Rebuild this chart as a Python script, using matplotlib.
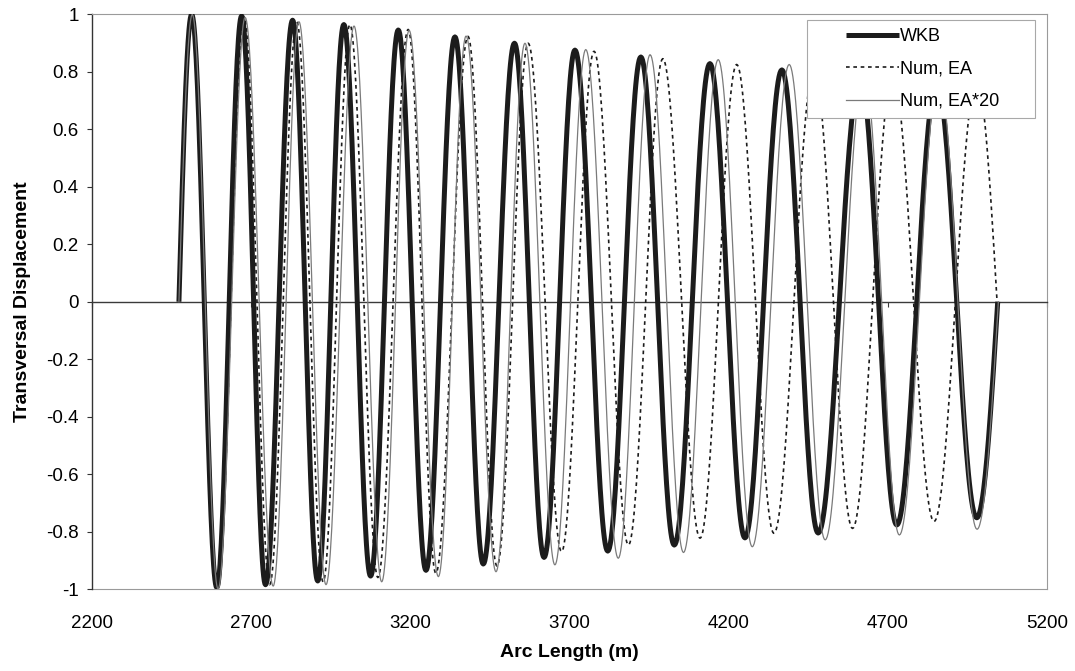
import numpy as np
import matplotlib.pyplot as plt
from matplotlib.patches import Rectangle


# =========================================================
# DATA (extrema)
# =========================================================
# WKB solution: start, alternating peaks / troughs, end
wkb_x = [2473, 2513, 2592, 2670, 2745, 2830, 2909, 2991, 3075, 3162, 3249, 3340, 3429, 3527,
         3620, 3717, 3820, 3924, 4029, 4141, 4251, 4367, 4481, 4613, 4728, 4853, 4979, 5045]
wkb_y = [0, 1.0, -0.995, 0.995, -0.985, 0.98, -0.972, 0.965, -0.955, 0.946, -0.935, 0.922, -0.913, 0.90,
         -0.89, 0.876, -0.868, 0.852, -0.847, 0.829, -0.822, 0.807, -0.805, 0.785, -0.777, 0.765, -0.752, 0]

# Numerical, EA
ea_x = [2473, 2515, 2595, 2678, 2758, 2843, 2926, 3010, 3098, 3193, 3280, 3381, 3472, 3570,
        3675, 3777, 3885, 3993, 4110, 4225, 4342, 4468, 4589, 4715, 4845, 4979, 5043]
ea_y = [0, 1.0, -0.995, 0.99, -0.985, 0.975, -0.975, 0.965, -0.96, 0.948, -0.945, 0.924, -0.92, 0.90,
        -0.87, 0.872, -0.847, 0.846, -0.823, 0.826, -0.806, 0.81, -0.789, 0.79, -0.765, 0.77, 0]

# Numerical, EA*20
ea20_x = [2473, 2515, 2596, 2681, 2769, 2850, 2935, 3023, 3110, 3196, 3288, 3375, 3469, 3560,
          3654, 3751, 3853, 3953, 4058, 4167, 4274, 4390, 4503, 4625, 4736, 4860, 4980, 5047]
ea20_y = [0, 1.0, -1.0, 0.99, -0.99, 0.975, -0.985, 0.96, -0.975, 0.945, -0.957, 0.925, -0.94, 0.90,
          -0.916, 0.878, -0.893, 0.86, -0.873, 0.843, -0.853, 0.826, -0.829, 0.805, -0.812, 0.785, -0.792, 0]

x_ticks = [2200, 2700, 3200, 3700, 4200, 4700, 5200]
y_ticks = [1, 0.8, 0.6, 0.4, 0.2, 0, -0.2, -0.4, -0.6, -0.8, -1]

labels = ["WKB", "Num, EA", "Num, EA*20"]


# =========================================================
# HELPERS
# =========================================================
def wave(xs, ys, n=40):
    """Sinusoidal half/quarter waves between consecutive extrema."""
    out_x, out_y = [], []
    t = np.linspace(0, 1, n)
    for i in range(len(xs) - 1):
        x0, x1, y0, y1 = xs[i], xs[i + 1], ys[i], ys[i + 1]
        if y0 == 0:
            seg = y1 * np.sin(np.pi / 2 * t)
        elif y1 == 0:
            seg = y0 * np.cos(np.pi / 2 * t)
        else:
            seg = y0 + (y1 - y0) * (1 - np.cos(np.pi * t)) / 2
        out_x.extend(x0 + (x1 - x0) * t)
        out_y.extend(seg)
    return np.array(out_x), np.array(out_y)


# =========================================================
# PLOT
# =========================================================
plt.rcParams["font.family"] = ["Liberation Sans", "DejaVu Sans"]

fig = plt.figure(figsize=(10.75, 6.71), dpi=100)
ax = fig.add_axes([0.0856, 0.1222, 0.8884, 0.8562])

x, y = wave(wkb_x, wkb_y)
l1, = ax.plot(x, y, color="#1c1c1c", lw=3.6, solid_capstyle="butt", zorder=3)
x, y = wave(ea_x, ea_y)
l2, = ax.plot(x, y, color="#1c1c1c", lw=1.2, linestyle=(0, (2.2, 2.2)), zorder=4)
x, y = wave(ea20_x, ea20_y)
l3, = ax.plot(x, y, color="#7a7a7a", lw=0.9, zorder=5)

ax.set_xlim(2200, 5200)
ax.set_ylim(-1, 1)

# plot area border
for side in ["top", "right"]:
    ax.spines[side].set_color("#9a9a9a")
    ax.spines[side].set_linewidth(0.8)
ax.spines["left"].set_color("#333333")
ax.spines["left"].set_linewidth(1.0)

# horizontal axis crosses at zero
ax.spines["bottom"].set_position(("data", 0))
ax.spines["bottom"].set_color("#3a3a3a")
ax.spines["bottom"].set_linewidth(1.0)
ax.set_xticks(x_ticks)
ax.tick_params(axis="x", direction="out", length=3.5, width=0.8, color="#3a3a3a",
               labelbottom=False)

# tick labels at the bottom of the plot area
sec = ax.secondary_xaxis("bottom")
sec.set_xticks(x_ticks)
sec.set_xticklabels([str(v) for v in x_ticks])
sec.tick_params(length=0, pad=19, labelsize=13.5)
sec.spines["bottom"].set_color("#9a9a9a")
sec.spines["bottom"].set_linewidth(0.8)
sec.set_xlabel("Arc Length (m)", fontsize=14, fontweight="bold", labelpad=8)

ax.set_yticks(y_ticks)
ax.set_yticklabels(["0" if v == 0 else f"{v:g}" for v in y_ticks])
ax.tick_params(axis="y", direction="out", length=3.5, width=0.8, color="#333333",
               pad=6, labelsize=13.5)
ax.set_ylabel("Transversal Displacement", fontsize=14, fontweight="bold", labelpad=11)

# legend with an Excel-like fixed box
box = Rectangle((0.749, 0.820), 0.238, 0.170, transform=ax.transAxes,
                facecolor="white", edgecolor="#a8a8a8", linewidth=0.8, zorder=10,
                clip_on=False)
ax.add_patch(box)
leg = ax.legend([l1, l2, l3], labels, loc="center",
                bbox_to_anchor=(0.749 + 0.121, 0.820 + 0.085), bbox_transform=ax.transAxes,
                frameon=False, fontsize=13, handlelength=2.9, handletextpad=0.1,
                labelspacing=0.85, borderpad=0.2)
leg.set_zorder(11)

fig.savefig("out.png", dpi=100)
